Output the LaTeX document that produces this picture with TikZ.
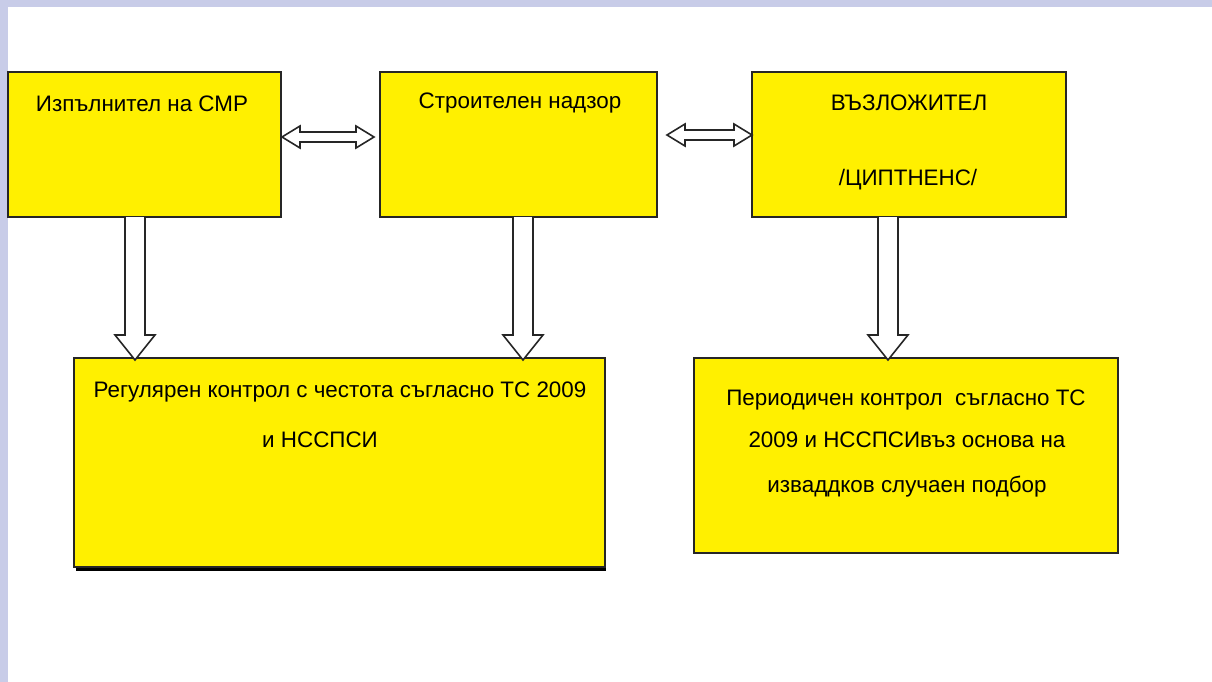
\documentclass[tikz,border=0pt]{standalone}
\usepackage{fontspec}
\setmainfont{Liberation Sans}
\usetikzlibrary{calc}
\definecolor{lav}{RGB}{200,204,232}
\definecolor{yel}{RGB}{255,240,0}
\newcommand\downblk[2]{\draw[barrow] ($(#1)+(-10,0)$) -- ($(#2)+(-10,-23)$) -- ($(#2)+(-20,-23)$) -- ($(#2)+(0,2)$) -- ($(#2)+(20,-23)$) -- ($(#2)+(10,-23)$) -- ($(#1)+(10,0)$);}
\newcommand\hdbl[2]{\draw[barrow] (#1) -- ($(#1)+(18,-11)$) -- ($(#1)+(18,-5)$) -- ($(#2)+(-18,-5)$) -- ($(#2)+(-18,-11)$) -- (#2) -- ($(#2)+(-18,11)$) -- ($(#2)+(-18,5)$) -- ($(#1)+(18,5)$) -- ($(#1)+(18,11)$) -- cycle;}
\begin{document}
\begin{tikzpicture}[x=1pt,y=-1pt,
  box/.style={draw=black!85, line width=1.5pt, fill=yel, inner sep=0pt, outer sep=0pt},
  lbl/.style={font=\fontsize{22.4}{26}\selectfont, anchor=center, inner sep=0pt},
  barrow/.style={draw=black!85, fill=white, line width=1.6pt, line join=miter}]
\useasboundingbox (0,0) rectangle (1212,682);
\fill[lav] (0,0) rectangle (1212,7);
\fill[lav] (0,0) rectangle (8,682);
% boxes
\node[box, minimum width=273pt, minimum height=145pt] (A) at (144.5,144.5) {};
\node[box, minimum width=277pt, minimum height=145pt] (B) at (518.5,144.5) {};
\node[box, minimum width=314pt, minimum height=145pt] (C) at (909,144.5) {};
\fill[black] (76,565) rectangle (606,571);
\node[box, minimum width=531pt, minimum height=209pt] (D) at (339.5,462.5) {};
\node[box, minimum width=424pt, minimum height=195pt] (E) at (906,455.5) {};
% texts
\node[lbl] (tA) at (142,104) {Изпълнител на СМР};
\node[lbl] (tB) at (520,103) {Строителен надзор};
\node[lbl] (tC1) at (909,103) {ВЪЗЛОЖИТЕЛ};
\node[lbl] (tC2) at (908,180) {/ЦИПТНЕНС/};
\node[lbl] (tD1) at (340,392) {Регулярен контрол с честота съгласно ТС 2009};
\node[lbl] (tD2) at (320,440) {и НССПСИ};
\node[lbl] (tE1) at (906,400) {Периодичен контрол\ \ съгласно ТС};
\node[lbl] (tE2) at (907,440) {2009 и НССПСИвъз основа на};
\node[lbl] (tE3) at (907,487) {изваддков случаен подбор};
% horizontal double arrows
\coordinate (ab1) at ($(A.east)+(1,-7.5)$);
\coordinate (ab2) at ($(B.west)+(-6,-7.5)$);
\coordinate (bc1) at ($(B.east)+(10,-9.5)$);
\coordinate (bc2) at ($(C.west)+(0,-9.5)$);
\hdbl{ab1}{ab2}
\hdbl{bc1}{bc2}
% vertical arrows
\coordinate (xa) at (135,0);
\coordinate (xb) at (523,0);
\coordinate (xc) at (888,0);
\coordinate (a1) at (A.south -| xa);
\coordinate (a2) at (D.north -| xa);
\coordinate (b1) at (B.south -| xb);
\coordinate (b2) at (D.north -| xb);
\coordinate (c1) at (C.south -| xc);
\coordinate (c2) at (E.north -| xc);
\downblk{a1}{a2}
\downblk{b1}{b2}
\downblk{c1}{c2}
\end{tikzpicture}
\end{document}
